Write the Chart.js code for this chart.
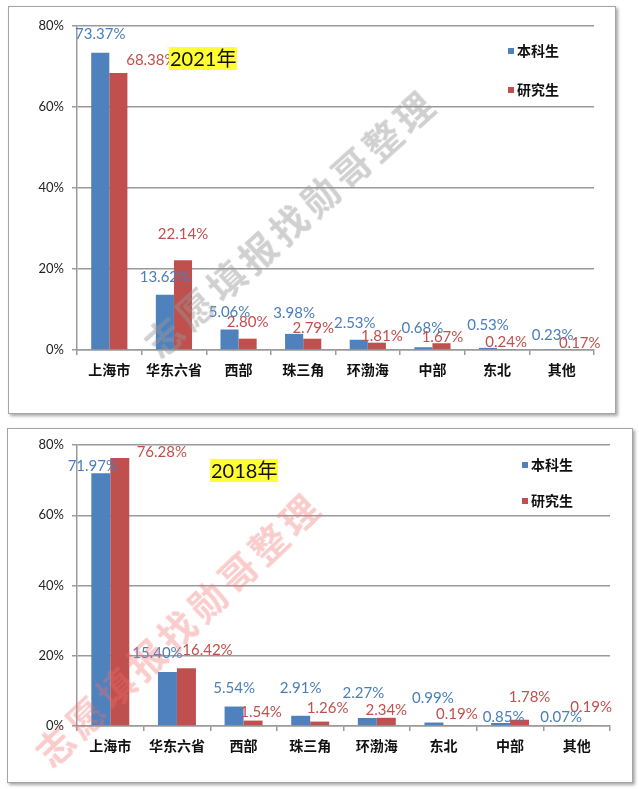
<!DOCTYPE html>
<html>
<head>
<meta charset="utf-8">
<script src="https://cdn.jsdelivr.net/npm/chart.js@4/dist/chart.umd.min.js"></script>
<style>
  html,body{margin:0;padding:0;background:#fff;}
  body{width:639px;height:789px;position:relative;overflow:hidden;font-family:"Noto Sans CJK SC",sans-serif;}
  .box{position:absolute;border:1px solid #a5a5a5;box-shadow:2px 2px 3px rgba(0,0,0,0.35);background:#fff;}
  canvas{position:absolute;left:0;}
  .yr{position:absolute;background:#ffff33;font-family:Lato,"Noto Sans CJK SC",sans-serif;font-size:20px;line-height:23px;color:#111;padding:0 1px;white-space:nowrap;}
  .lg{position:absolute;font-family:"Noto Sans CJK SC",sans-serif;font-weight:bold;font-size:14px;line-height:16px;color:#111;white-space:nowrap;}
  .lg i{display:inline-block;width:6px;height:6px;margin-right:3px;vertical-align:middle;position:relative;top:-1px;}
  .wm{position:absolute;font-family:"Noto Sans CJK SC",sans-serif;font-weight:bold;font-size:37px;letter-spacing:5px;white-space:nowrap;transform-origin:center center;}
</style>
</head>
<body>
<div class="box" style="left:8px;top:6px;width:606px;height:406px;"></div>
<div class="box" style="left:7px;top:428px;width:624px;height:353px;"></div>
<canvas id="c2021" width="639" height="420" style="top:0;"></canvas>
<canvas id="c2018" width="639" height="369" style="top:420px;"></canvas>
<div class="yr" style="left:169px;top:47px;">2021年</div>
<div class="yr" style="left:210px;top:459px;">2018年</div>
<div id="lg2021"></div>
<div id="lg2018"></div>
<div class="wm" id="wm1" style="color:rgba(150,150,150,0.45);">志愿填报找勋哥整理</div>
<div class="wm" id="wm2" style="color:rgba(240,110,110,0.35);">志愿填报找勋哥整理</div>
<script>
// ---- data ----
const seriesNames = ["本科生", "研究生"];
const categories2021 = ["上海市", "华东六省", "西部", "珠三角", "环渤海", "中部", "东北", "其他"];
const undergrad2021 = [73.37, 13.62, 5.06, 3.98, 2.53, 0.68, 0.53, 0.23];
const postgrad2021 = [68.38, 22.14, 2.80, 2.79, 1.81, 1.67, 0.24, 0.17];
const categories2018 = ["上海市", "华东六省", "西部", "珠三角", "环渤海", "东北", "中部", "其他"];
const undergrad2018 = [71.97, 15.40, 5.54, 2.91, 2.27, 0.99, 0.85, 0.07];
const postgrad2018 = [76.28, 16.42, 1.54, 1.26, 2.34, 0.19, 1.78, 0.19];
const yTickValues = [0, 20, 40, 60, 80];

// ---- label nudges (layout only, relative to bar top) ----
const nudgeUg2021 = [[0,-19],[0,-18],[0,-17],[0,-21],[-4,-17],[-1,-19],[0,-23],[0,-14]];
const nudgePg2021 = [[33,-13],[0,-26],[0,-17],[1,-11],[5,-7],[1,-6],[0,-7],[9,-6]];
const nudgeUg2018 = [[-8,-7],[-10,-19],[0,-18],[0,-28],[-4,-25],[-1,-24],[3,-6],[-6,-9]];
const nudgePg2018 = [[42,-6],[21,-18],[8,-8],[8,-13],[0,-8],[4,-11],[10,-23],[5,-18]];

const BLUE = "#4f81bd", RED = "#c0504d";
const BLUE_TXT = "#4a7ebb", RED_TXT = "#c0504d";

const labelPlugin = {
  id: "barLabels",
  afterDatasetsDraw(chart) {
    const ctx = chart.ctx;
    ctx.save();
    ctx.font = "15px Lato, 'Liberation Sans', sans-serif";
    ctx.textAlign = "center";
    ctx.textBaseline = "middle";
    chart.data.datasets.forEach((ds, i) => {
      const meta = chart.getDatasetMeta(i);
      meta.data.forEach((bar, j) => {
        const n = ds.nudge[j];
        ctx.fillStyle = ds.labelColor;
        ctx.fillText(ds.data[j].toFixed(2) + "%", bar.x + n[0], bar.y + n[1]);
      });
    });
    ctx.restore();
  }
};

function makeChart(id, cats, ug, pg, nUg, nPg, g) {
  return new Chart(document.getElementById(id), {
    type: "bar",
    data: {
      labels: cats,
      datasets: [
        { label: seriesNames[0], data: ug, backgroundColor: BLUE, nudge: nUg, labelColor: BLUE_TXT,
          categoryPercentage: g.cp, barPercentage: 1.0 },
        { label: seriesNames[1], data: pg, backgroundColor: RED, nudge: nPg, labelColor: RED_TXT,
          categoryPercentage: g.cp, barPercentage: 1.0 }
      ]
    },
    options: {
      responsive: false,
      animation: false,
      events: [],
      layout: { padding: { left: 0, top: g.top, right: g.right, bottom: 0 } },
      plugins: { legend: { display: false }, tooltip: { enabled: false } },
      scales: {
        y: {
          min: 0, max: 80,
          afterFit(s) { s.width = 77; },
          afterBuildTicks(s) { s.ticks = yTickValues.map(v => ({ value: v })); },
          ticks: {
            callback: v => v + "%",
            font: { family: "Lato, 'Liberation Sans', sans-serif", size: 13 },
            color: "#222",
            padding: 8
          },
          grid: { color: "#9a9a9a", lineWidth: 1.5, tickLength: 5, drawTicks: true },
          border: { color: "#9a9a9a", width: 1.5 }
        },
        x: {
          afterFit(s) { s.height = g.bottomH; },
          ticks: {
            font: { family: "'Noto Sans CJK SC', sans-serif", size: 14, weight: "bold" },
            color: "#111",
            padding: 6,
            maxRotation: 0, autoSkip: false
          },
          grid: { offset: true, drawOnChartArea: false, color: "#9a9a9a", lineWidth: 1.5, tickLength: 5 },
          border: { color: "#9a9a9a", width: 1.5 }
        }
      }
    },
    plugins: [labelPlugin]
  });
}

const ch1 = makeChart("c2021", categories2021, undergrad2021, postgrad2021, nudgeUg2021, nudgePg2021,
  { top: 26, right: 45, bottomH: 70, cp: 0.56 });
const ch2 = makeChart("c2018", categories2018, undergrad2018, postgrad2018, nudgeUg2018, nudgePg2018,
  { top: 25, right: 29, bottomH: 63, cp: 0.57 });

function buildLegend(elId, chart, left, tops) {
  const el = document.getElementById(elId);
  chart.data.datasets.forEach((ds, i) => {
    const d = document.createElement("div");
    d.className = "lg";
    d.style.left = left + "px";
    d.style.top = tops[i] + "px";
    d.innerHTML = '<i style="background:' + ds.backgroundColor + '"></i>' + ds.label;
    el.appendChild(d);
  });
}
buildLegend("lg2021", ch1, 508, [42, 81]);
buildLegend("lg2018", ch2, 522, [456, 492]);

function placeWm(id, cx, cy, ang) {
  const el = document.getElementById(id);
  const w = el.offsetWidth, h = el.offsetHeight;
  el.style.left = (cx - w / 2) + "px";
  el.style.top = (cy - h / 2) + "px";
  el.style.transform = "rotate(" + ang + "deg)";
}
placeWm("wm1", 290, 222, -42);
placeWm("wm2", 178, 628, -43.5);
</script>
</body>
</html>
